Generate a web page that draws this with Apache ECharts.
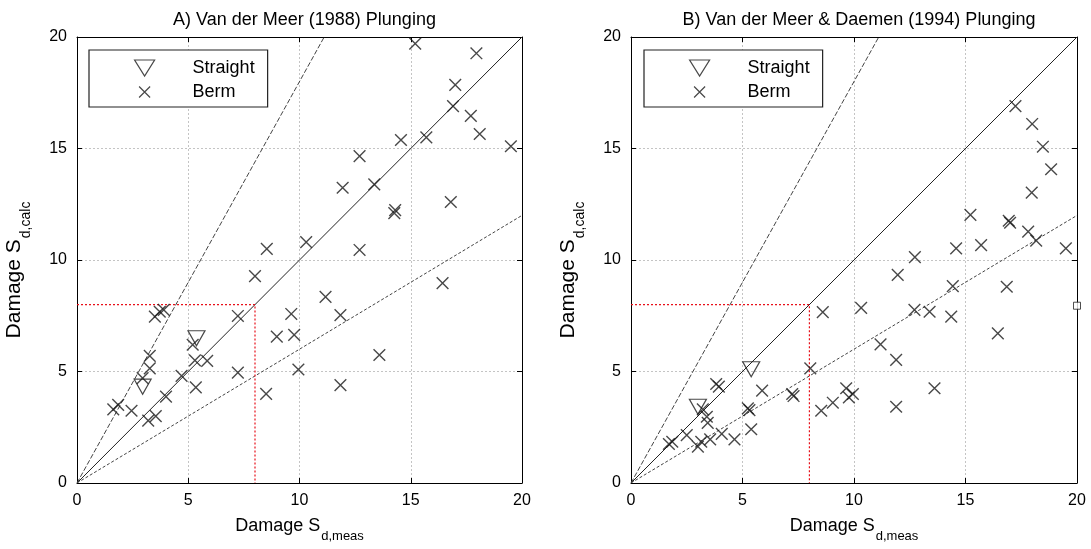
<!DOCTYPE html>
<html><head><meta charset="utf-8">
<script src="https://cdn.jsdelivr.net/npm/echarts@6/dist/echarts.min.js"></script>
<style>html,body{margin:0;padding:0;background:#fff}#c{width:1091px;height:549px}</style>
</head><body><div id="c"></div>
<script>
// ---- data ----
const titles = ['A) Van der Meer (1988) Plunging', 'B) Van der Meer & Daemen (1994) Plunging'];
const axisTicks = [0, 5, 10, 15, 20];
const leftStraight = [[2.95,4.32],[5.37,6.49]];
const leftBerm = [[1.63,3.3],[1.85,3.5],[2.45,3.24],[2.95,4.7],[3.2,2.8],[3.54,3.0],[3.27,5.14],[3.27,5.7],[3.5,7.46],[3.72,7.68],[3.9,7.76],[4.0,3.87],[4.7,4.8],[5.2,6.2],[5.3,5.5],[5.34,4.29],[5.85,5.48],[7.23,7.49],[7.23,4.95],[8.0,9.28],[8.5,4.0],[8.53,10.5],[8.98,6.56],[9.63,7.58],[9.76,6.64],[9.95,5.09],[10.3,10.8],[11.17,8.35],[11.84,7.53],[11.84,4.39],[11.94,13.24],[12.7,14.66],[12.7,10.45],[13.36,13.39],[13.59,5.74],[14.3,12.24],[14.26,12.1],[14.56,15.38],[15.2,19.7],[15.7,15.5],[16.43,8.96],[16.8,12.6],[16.9,16.9],[17.0,17.85],[17.7,16.46],[17.95,19.27],[18.1,15.65],[19.5,15.1]];
const rightStraight = [[3.0,3.42],[5.39,5.1]];
const rightBerm = [[1.7,1.75],[1.85,1.85],[2.5,2.15],[3.0,1.63],[3.15,1.85],[3.22,3.3],[3.4,2.97],[3.44,2.7],[3.55,1.96],[3.82,4.44],[3.94,4.32],[4.07,2.2],[4.64,1.96],[5.24,3.35],[5.31,3.27],[5.39,2.41],[5.88,4.14],[7.23,3.99],[7.29,3.9],[8.04,5.14],[8.53,3.24],[8.6,7.66],[9.05,3.6],[9.65,4.25],[9.77,3.84],[9.95,3.99],[10.32,7.85],[11.19,6.22],[11.89,5.52],[11.89,3.42],[11.96,9.33],[12.71,7.76],[12.73,10.13],[13.39,7.68],[13.61,4.25],[14.36,7.46],[14.43,8.83],[14.58,10.52],[15.22,12.02],[15.7,10.67],[16.45,6.71],[16.85,8.8],[16.94,11.76],[17.0,11.67],[17.24,16.9],[17.81,11.27],[17.97,13.02],[17.99,16.1],[18.17,10.87],[18.47,15.08],[18.84,14.07],[19.5,10.52]];
const rightExtra = [[20,7.95]];
const lineEqual = [[0,0],[20,20]];
const lineUpper = [[0,0],[11.11,20]];
const lineLower = [[0,0],[20,12]];
const guide = [[0,8],[8,8],[8,0]];

// ---- chart ----
const FONT = 'Liberation Sans, Arial, sans-serif';
const TRI = 'path://M0,0L20,0L10,16Z';
const CROSS = 'path://M0,0M2.5,2.5L13.5,13.5M13.5,2.5L2.5,13.5M16,16';
const grids = [{left:77, top:37, width:445, height:446},{left:631, top:37, width:446, height:446}];
const chart = echarts.init(document.getElementById('c'), null, {renderer:'canvas'});
const tickCol = '#000';
function xAxes(g){
  return [{
    type:'value', gridIndex:g, min:0, max:20, interval:5, position:'bottom',
    axisLine:{onZero:false, lineStyle:{color:tickCol, width:1}},
    axisTick:{inside:true, length:5, lineStyle:{color:tickCol}},
    axisLabel:{fontSize:16, color:'#000', margin:10, fontFamily:FONT},
    splitLine:{show:true, lineStyle:{color:'#c4c4c4', type:[2,2], width:1}},
    name:'{a|Damage S}{b|d,meas}', nameLocation:'middle', nameGap:34,
    nameTextStyle:{fontFamily:FONT, color:'#000', rich:{a:{fontSize:18, fontFamily:FONT, verticalAlign:'top'}, b:{fontSize:13, fontFamily:FONT, verticalAlign:'top', padding:[13,0,0,1]}}}
  },{
    type:'value', gridIndex:g, min:0, max:20, interval:5, position:'top',
    axisLine:{onZero:false, lineStyle:{color:tickCol, width:1}},
    axisTick:{inside:true, length:5, lineStyle:{color:tickCol}},
    axisLabel:{show:false}, splitLine:{show:false}
  }];
}
function yAxes(g){
  return [{
    type:'value', gridIndex:g, min:0, max:20, interval:5, position:'left',
    axisLine:{onZero:false, lineStyle:{color:tickCol, width:1}},
    axisTick:{inside:true, length:5, lineStyle:{color:tickCol}},
    axisLabel:{fontSize:16, color:'#000', margin:10, fontFamily:FONT},
    splitLine:{show:true, lineStyle:{color:'#c4c4c4', type:[2,2], width:1}},
    name:'{a|Damage S}{b|d,calc}', nameLocation:'middle', nameGap:44,
    nameTextStyle:{fontFamily:FONT, color:'#000', rich:{a:{fontSize:21, fontFamily:FONT, verticalAlign:'top'}, b:{fontSize:14, fontFamily:FONT, verticalAlign:'top', padding:[15,20,0,1]}}}
  },{
    type:'value', gridIndex:g, min:0, max:20, interval:5, position:'right',
    axisLine:{onZero:false, lineStyle:{color:tickCol, width:1}},
    axisTick:{inside:true, length:5, lineStyle:{color:tickCol}},
    axisLabel:{show:false}, splitLine:{show:false}
  }];
}
function refSeries(g){
  const base = {type:'line', xAxisIndex:g*2, yAxisIndex:g*2, symbol:'none', silent:true, z:1, animation:false};
  return [
    Object.assign({}, base, {name:'eq', data:lineEqual, lineStyle:{color:'#222', width:1, type:'solid'}}),
    Object.assign({}, base, {name:'up', data:lineUpper, lineStyle:{color:'#444', width:1, type:[5,2]}}),
    Object.assign({}, base, {name:'lo', data:lineLower, lineStyle:{color:'#444', width:1, type:[3,2]}}),
    Object.assign({}, base, {name:'guide', data:guide, lineStyle:{color:'#e8101a', width:1.2, type:[2,2]}})
  ];
}
function markSeries(g, straight, berm){
  return [
    {name:'Straight', type:'scatter', xAxisIndex:g*2, yAxisIndex:g*2, data:straight, symbol:TRI, symbolSize:[17,15], symbolKeepAspect:false,
     itemStyle:{color:'transparent', borderColor:'#1a1a1a', borderWidth:1.2}, z:3, animation:false},
    {name:'Berm', type:'scatter', xAxisIndex:g*2, yAxisIndex:g*2, data:berm, symbol:CROSS, symbolSize:17,
     itemStyle:{color:'transparent', borderColor:'#1a1a1a', borderWidth:1.4}, z:4, animation:false}
  ];
}
const legends = [89, 644].map(l => ({
  left:l, top:50, orient:'vertical', data:['Straight','Berm'], itemWidth:86, itemHeight:16, itemGap:6,
  padding:[9,13,6,45], borderColor:'#222', borderWidth:1.2, backgroundColor:'#fff',
  textStyle:{fontSize:18, color:'#000', fontFamily:FONT, lineHeight:16},
  itemStyle:{borderWidth:1.2, borderColor:'#1a1a1a', color:'transparent'}, selectedMode:false
}));
const option = {
  backgroundColor:'#fff',
  animation:false,
  title: titles.map((t,i) => ({text:t, left: grids[i].left + grids[i].width/2, top:6, textAlign:'center',
    textStyle:{fontSize:18, fontWeight:'normal', color:'#000', fontFamily:FONT}})),
  legend: legends,
  grid: grids,
  xAxis: [...xAxes(0), ...xAxes(1)],
  yAxis: [...yAxes(0), ...yAxes(1)],
  series: [
    ...refSeries(0), ...markSeries(0, leftStraight, leftBerm),
    ...refSeries(1), ...markSeries(1, rightStraight, rightBerm),
    {name:'extra', type:'scatter', xAxisIndex:2, yAxisIndex:2, data:rightExtra, symbol:'rect', symbolSize:7,
     itemStyle:{color:'#fff', borderColor:'#222', borderWidth:1}, z:5, animation:false}
  ]
};
chart.setOption(option);
</script></body></html>
